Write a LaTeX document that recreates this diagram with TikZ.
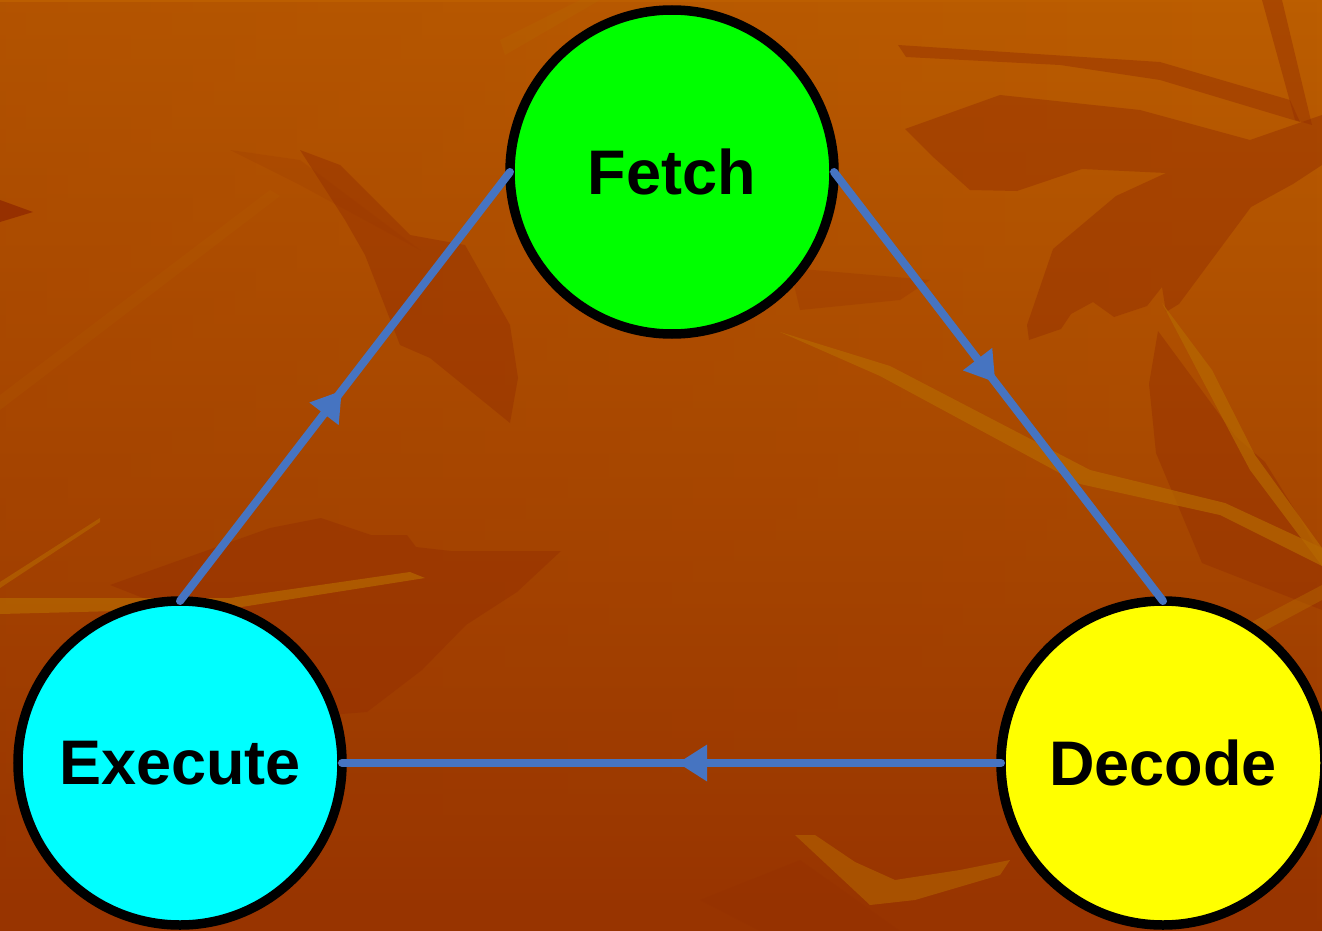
\documentclass[tikz,border=0pt]{standalone}
\usepackage{fontspec}
\setmainfont{Liberation Sans}
\usetikzlibrary{arrows.meta,decorations.markings,fadings}

\definecolor{flow}{RGB}{70,116,193}
\definecolor{bgtop}{RGB}{188,94,0}
\definecolor{bgmid}{RGB}{170,74,0}
\definecolor{bgbot}{RGB}{152,52,0}
\definecolor{leafdark}{RGB}{148,46,0}
\definecolor{vein}{RGB}{182,104,0}
\definecolor{fetchfill}{RGB}{0,255,0}
\definecolor{decodefill}{RGB}{255,255,0}
\definecolor{executefill}{RGB}{0,255,255}

\tikzset{
  stage/.style={circle, draw=black, line width=9.5pt, minimum size=324pt,
    inner sep=0pt, outer sep=0pt,
    font=\fontsize{63}{63}\selectfont\bfseries},
  flowline/.style={draw=flow, line width=8pt, line cap=round,
    postaction={decorate},
    decoration={markings,
      mark=at position 0.49 with {\arrow{Triangle[length=29pt,width=37pt,line width=0pt]}}}},
  darkleaf/.style={fill=leafdark, fill opacity=0.45, draw=none},
  lightvein/.style={fill=vein, fill opacity=0.7, draw=none}
}

\begin{document}
\begin{tikzpicture}[x=1pt,y=-1pt]
\useasboundingbox (0,0) rectangle (1322,931);

% textured backdrop
\begin{scope}
\clip (0,0) rectangle (1322,931);
\shade[top color=bgtop, bottom color=bgbot, middle color=bgmid] (0,0) rectangle (1322,931);
\fill[bgbot, opacity=0.25, path fading=east] (0,0) rectangle (1322,931);

% dark leaves
\fill[darkleaf, fill opacity=0.9] (0,200) -- (33,212) -- (0,222) -- cycle;
\fill[darkleaf] (300,150) -- (345,220) -- (365,255) -- (400,345) -- (430,358)
  -- (510,423) -- (518,378) -- (510,325) -- (465,245) -- (410,235) -- (340,165) -- cycle;
\fill[darkleaf, fill opacity=0.15] (230,150) -- (300,160) -- (420,250) -- (300,185) -- cycle;
\fill[darkleaf] (898,45) -- (906,57) -- (1060,65) -- (1160,80) -- (1300,122)
  -- (1290,100) -- (1160,62) -- cycle;
\fill[darkleaf] (1262,0) -- (1295,120) -- (1312,125) -- (1282,0) -- cycle;
\fill[darkleaf] (905,129) -- (932,156) -- (970,190) -- (1017,191) -- (1082,169)
  -- (1166,173) -- (1116,196) -- (1053,249) -- (1027,325) -- (1029,340)
  -- (1061,329) -- (1071,314) -- (1093,302) -- (1114,317) -- (1147,306)
  -- (1162,287) -- (1166,312) -- (1179,304) -- (1251,207) -- (1293,184)
  -- (1322,165) -- (1322,115) -- (1250,140) -- (1140,110) -- (1000,95) -- cycle;
\fill[darkleaf] (1158,331) -- (1149,384) -- (1156,453) -- (1202,563) -- (1322,610)
  -- (1322,560) -- (1301,520) -- (1265,462) -- (1236,437) -- cycle;
\fill[darkleaf] (110,585) -- (270,528) -- (321,518) -- (371,535) -- (407,535)
  -- (416,547) -- (451,551) -- (561,551) -- (517,592) -- (466,625) -- (422,670)
  -- (367,712) -- (316,716) -- (250,640) -- cycle;
\fill[darkleaf, fill opacity=0.25] (790,268) -- (930,280) -- (900,300) -- (800,310) -- cycle;
\fill[darkleaf, fill opacity=0.25] (700,900) -- (800,860) -- (900,931) -- (760,931) -- cycle;

% lighter veins
\fill[lightvein] (0,598) -- (230,598) -- (410,572) -- (425,578) -- (235,608) -- (0,614) -- cycle;
\fill[lightvein, fill opacity=0.6] (0,582) -- (100,518) -- (100,522) -- (0,588) -- cycle;
\fill[lightvein] (780,332) -- (890,366) -- (1090,470) -- (1225,503) -- (1322,548)
  -- (1322,566) -- (1220,515) -- (1080,484) -- (880,376) -- cycle;
\fill[lightvein] (1162,303) -- (1212,370) -- (1255,455) -- (1322,548) -- (1322,566)
  -- (1250,470) -- (1205,385) -- cycle;
\fill[lightvein, fill opacity=0.45] (1000,755) -- (1322,585) -- (1322,600) -- (1005,770) -- cycle;
\fill[lightvein, fill opacity=0.55] (795,835) -- (815,835) -- (855,862) -- (895,880)
  -- (960,870) -- (1010,860) -- (1000,875) -- (915,900) -- (870,905) -- cycle;
\fill[lightvein, fill opacity=0.3] (500,40) -- (580,0) -- (600,0) -- (505,55) -- cycle;
\fill[lightvein, fill opacity=0.15] (0,395) -- (270,190) -- (280,196) -- (0,410) -- cycle;
\end{scope}

% the three stages of the cycle
\node[stage, fill=fetchfill]   (fetch)   at (672,172) {Fetch};
\node[stage, fill=decodefill]  (decode)  at (1163,763) {Decode};
\node[stage, fill=executefill] (execute) at (180,763) {Execute};

% flow between stages
\draw[flowline] (execute.north) -- (fetch.west);
\draw[flowline] (fetch.east) -- (decode.north);
\draw[flowline] (decode.west) -- (execute.east);
\end{tikzpicture}
\end{document}
